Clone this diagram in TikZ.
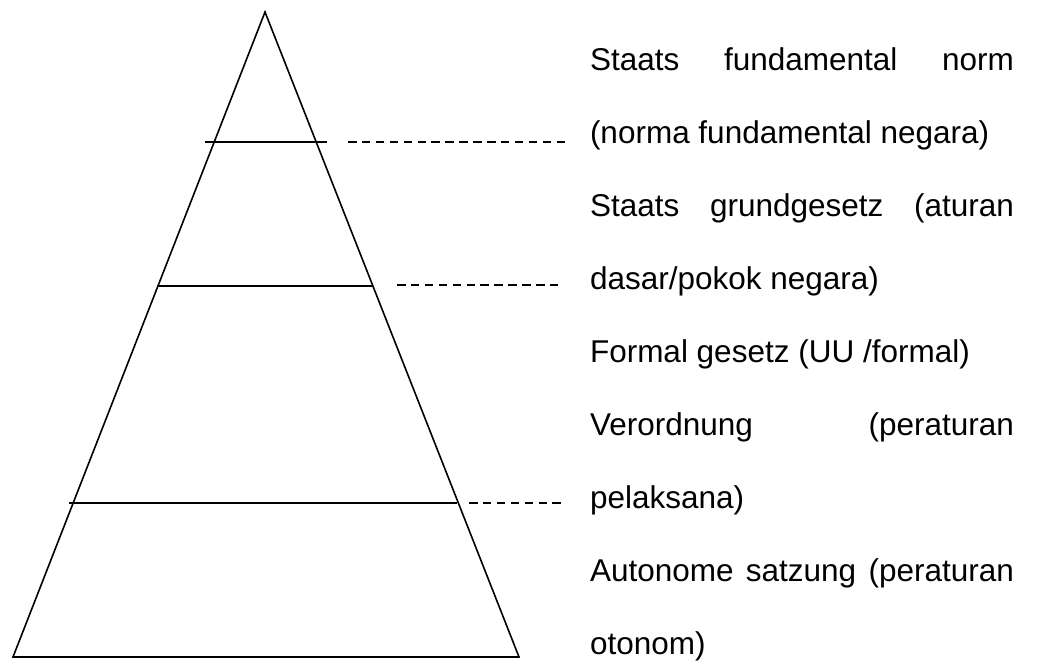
\documentclass[tikz,border=0pt]{standalone}
\usepackage{fontspec}
\setmainfont{Liberation Sans}
\begin{document}
\begin{tikzpicture}[x=1pt,y=-1pt,
  edge/.style={line width=1.6pt, line join=miter},
  tier/.style={line width=1.6pt},
  leader/.style={line width=1.6pt, dash pattern=on 8.5pt off 5.4pt},
  txt/.style={anchor=base west, inner sep=0pt, outer sep=0pt,
              font=\fontsize{31.5}{38}\selectfont}]
\useasboundingbox (0,0) rectangle (1044,664);

% pyramid outline
\coordinate (apex) at (265,12);
\coordinate (bl) at (13,657);
\coordinate (br) at (519,657);
\draw[edge] (apex) -- (bl) -- (br) -- cycle;

% tier divisions
\coordinate (t1l) at (205,142); \coordinate (t1r) at (327,142);
\coordinate (t2l) at (157,286); \coordinate (t2r) at (372,286);
\coordinate (t3l) at (69,503);  \coordinate (t3r) at (457,503);
\draw[tier] (t1l) -- (t1r);
\draw[tier] (t2l) -- (t2r);
\draw[tier] (t3l) -- (t3r);

% justified labels, one line each
\newcommand{\jline}[1]{\makebox[424pt][s]{#1}}
\node[txt] (l1) at (590,70)  {\jline{Staats fundamental norm}};
\node[txt] (l2) at (590,143) {(norma fundamental negara)};
\node[txt] (l3) at (590,216) {\jline{Staats grundgesetz (aturan}};
\node[txt] (l4) at (590,289) {dasar/pokok negara)};
\node[txt] (l5) at (590,362) {Formal gesetz (UU /formal)};
\node[txt] (l6) at (590,435) {\jline{Verordnung (peraturan}};
\node[txt] (l7) at (590,508) {pelaksana)};
\node[txt] (l8) at (590,581) {\jline{Autonome satzung (peraturan}};
\node[txt] (l9) at (590,654) {otonom)};

% dashed leaders from the tiers towards the labels
\coordinate (d1s) at (348,142); \coordinate (d1e) at (565,142);
\coordinate (d2s) at (397,285); \coordinate (d2e) at (558,285);
\coordinate (d3s) at (469,503); \coordinate (d3e) at (561,503);
\draw[leader] (d1s) -- (d1e);
\draw[leader] (d2s) -- (d2e);
\draw[leader] (d3s) -- (d3e);
\end{tikzpicture}
\end{document}
